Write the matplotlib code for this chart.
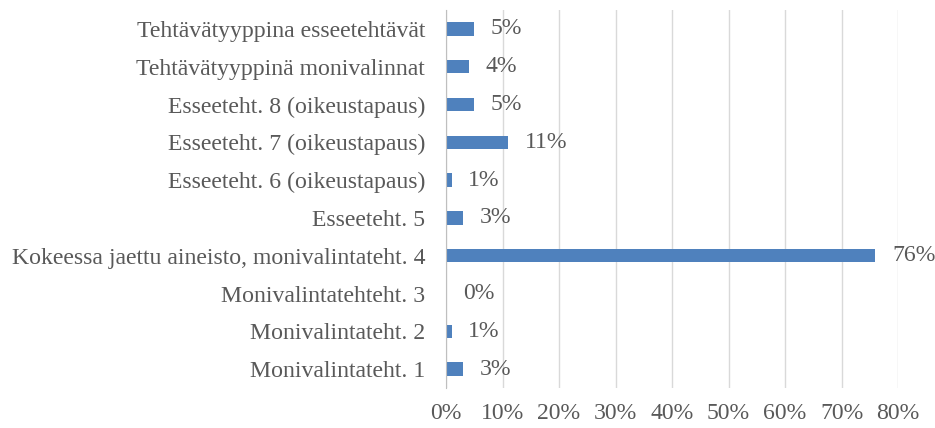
import matplotlib
matplotlib.use('Agg')
import matplotlib.pyplot as plt
from matplotlib.ticker import FuncFormatter

categories = [
    'Monivalintateht. 1',
    'Monivalintateht. 2',
    'Monivalintatehteht. 3',
    'Kokeessa jaettu aineisto, monivalintateht. 4',
    'Esseeteht. 5',
    'Esseeteht. 6 (oikeustapaus)',
    'Esseeteht. 7 (oikeustapaus)',
    'Esseeteht. 8 (oikeustapaus)',
    'Tehtävätyyppinä monivalinnat',
    'Tehtävätyyppina esseetehtävät',
]
values = [3, 1, 0, 76, 3, 1, 11, 5, 4, 5]
xticks = [0, 10, 20, 30, 40, 50, 60, 70, 80]

plt.rcParams['font.family'] = ['Liberation Serif', 'DejaVu Serif']
text_color = '#595959'
fs = 17.1

fig = plt.figure(figsize=(9.35, 4.28), dpi=100)
ax = fig.add_axes([446 / 935, 1 - 388 / 428, (898 - 446) / 935, (388 - 10) / 428])

y = range(len(categories))
ax.barh(y, values, height=0.35, color='#4f81bd', zorder=3)
for yi, v in zip(y, values):
    ax.annotate(f'{v}%', (v, yi), xytext=(12, 0), textcoords='offset points',
                va='center', ha='left', fontsize=fs, color=text_color)

ax.set_ylim(-0.5, len(categories) - 0.5)
ax.set_xlim(0, 80)
ax.set_yticks(list(y))
ax.set_yticklabels(categories, fontsize=fs, color=text_color)
ax.set_xticks(xticks)
ax.xaxis.set_major_formatter(FuncFormatter(lambda v, p: f'{int(v)}%'))
ax.tick_params(axis='x', labelsize=fs, labelcolor=text_color, length=0, pad=11)
ax.tick_params(axis='y', length=0, pad=15)
ax.grid(axis='x', color='#d9d9d9', linewidth=1, zorder=0)
for s in ['top', 'right', 'bottom']:
    ax.spines[s].set_visible(False)
ax.spines['left'].set_color('#bfbfbf')
ax.spines['left'].set_zorder(4)

fig.savefig('out.png', dpi=100)
